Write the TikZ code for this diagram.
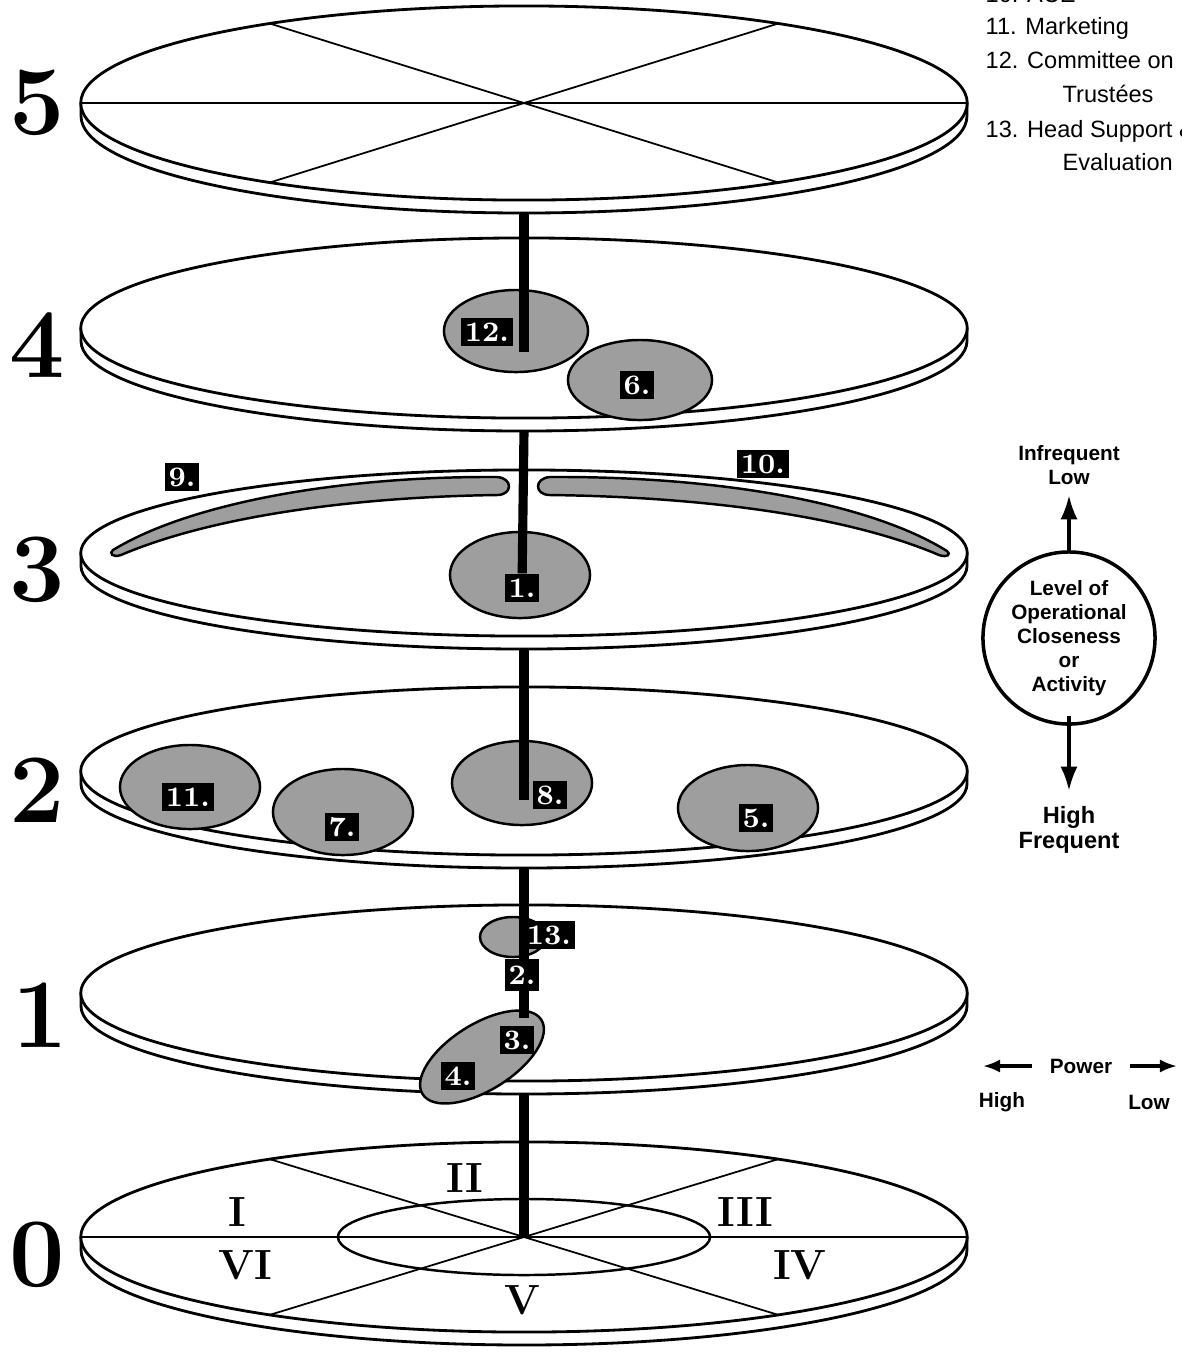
\documentclass[tikz,border=0pt]{standalone}
\usepackage{fontspec}
\newfontfamily\legendfont{Liberation Sans}
\usetikzlibrary{arrows.meta, positioning, shapes.geometric}

% one level: rim first, then the white top face
\newcommand\plate[3]{%
  \draw[rim] (524-443,-#2) -- ++(0,-13)
      arc[start angle=180, end angle=360, x radius=443, y radius=#3] -- ++(0,13);
  \node (#1) [disc, minimum height=#3*0.02cm] at (524,-#2) {};
}

\begin{document}
\begin{tikzpicture}[x=0.01cm, y=0.01cm,
    node distance=1mm,
disc/.style   = {ellipse, draw, line width=0.8pt, fill=white, minimum width=8.86cm,
                 inner sep=0pt, outer sep=0pt},
rim/.style    = {line width=0.8pt},
spoke/.style  = {line width=0.5pt},
streak/.style = {draw, line width=0.7pt, fill=black!38},
blob/.style   = {streak, ellipse, inner sep=0pt},
tag/.style    = {fill=black, text=white, font=\footnotesize\bfseries, inner sep=1pt,
                 minimum height=0.28cm, minimum width=0.3cm},
pole/.style   = {line width=2.6pt},
level/.style  = {font=\fontsize{28}{30}\selectfont\bfseries},
sector/.style = {font=\large\bfseries},
item/.style   = {font=\legendfont\fontsize{6.7}{8}\selectfont, anchor=base west, inner sep=0pt},
key/.style    = {font=\legendfont\bfseries\fontsize{5.9}{6.8}\selectfont, align=center, inner sep=0pt},
arr/.style    = {line width=0.9pt, -{Latex[length=2.4mm, width=1.7mm]}},
parr/.style   = {line width=0.9pt, -{Latex[length=1.7mm, width=1.3mm]}}
                        ]
\useasboundingbox (0,0) rectangle (1182,-1353);
%
\plate{p5}{103}{97}
\plate{p4}{328}{90}
\plate{p3}{553}{83}
\plate{p2}{771}{84}
\plate{p1}{993}{88}
\plate{p0}{1237}{95}
% spokes on top and bottom level
\draw[spoke] (p5.west) -- (p5.east);
\foreach \a in {55,125}
    \draw[spoke] ([shift={(\a:443 and 97)}]p5.center) -- ([shift={(\a+180:443 and 97)}]p5.center);
\draw[spoke] (p0.west) -- (p0.east);
\foreach \a in {55,125}
    \draw[spoke] ([shift={(\a:443 and 95)}]p0.center) -- ([shift={(\a+180:443 and 95)}]p0.center);
\node (core) [ellipse, draw, line width=0.7pt, inner sep=0pt,
              minimum width=3.72cm, minimum height=0.76cm] at (p0.center) {};
% level numbers
\node (n5) [level] at (37,-103)  {5};
\node (n4) [level] at (37,-345)  {4};
\node (n3) [level] at (37,-570)  {3};
\node (n2) [level] at (37,-790)  {2};
\node (n1) [level] at (40,-1015) {1};
\node (n0) [level] at (37,-1255) {0};
% sectors
\node (s1) [sector] at (237,-1212) {I};
\node (s2) [sector] at (465,-1178) {II};
\node (s3) [sector] at (745,-1212) {III};
\node (s6) [sector] at (245,-1265) {VI};
\node (s5) [sector] at (522,-1300) {V};
\node (s4) [sector] at (800,-1265) {IV};
% groups
\node (e12) [blob, minimum width=1.44cm, minimum height=0.82cm] at (516,-331)  {};
\node (e6)  [blob, minimum width=1.44cm, minimum height=0.80cm] at (640,-380)  {};
\node (e1)  [blob, minimum width=1.40cm, minimum height=0.86cm] at (520,-575)  {};
\node (e11) [blob, minimum width=1.40cm, minimum height=0.84cm] at (190,-787)  {};
\node (e7)  [blob, minimum width=1.40cm, minimum height=0.86cm] at (343,-812)  {};
\node (e8)  [blob, minimum width=1.40cm, minimum height=0.84cm] at (522,-783)  {};
\node (e5)  [blob, minimum width=1.40cm, minimum height=0.86cm] at (748,-808)  {};
\node (e13) [blob, minimum width=0.66cm, minimum height=0.40cm] at (513,-937)  {};
\node (e34) [blob, rotate=32, minimum width=1.40cm, minimum height=0.66cm] at (482,-1057) {};
\draw[streak] (113,-550) .. controls (190,-503) and (340,-476) .. (497,-477)
    .. controls (513,-478) and (513,-495) .. (497,-495)
    .. controls (350,-497) and (210,-517) .. (121,-555)
    .. controls (112,-558) and (109,-553) .. cycle;
\draw[streak] (947,-551) .. controls (870,-503) and (720,-476) .. (550,-477)
    .. controls (534,-478) and (534,-495) .. (550,-495)
    .. controls (710,-497) and (850,-517) .. (939,-555)
    .. controls (948,-558) and (951,-554) .. cycle;
% poles
\coordinate (t4) at (524,-352);
\coordinate (t2) at (524,-800);
\coordinate (t1) at (524,-1018);
\node (b1) [tag] at (522,-588) {1.};
\draw[pole] ([yshift=-1.3mm]p5.south) -- (t4);
\draw[pole] ([yshift=-1.3mm]p4.south) -- (b1);
\draw[pole] ([yshift=-1.3mm]p3.south) -- (t2);
\draw[pole] ([yshift=-1.3mm]p2.south) -- (t1);
\draw[pole] ([yshift=-1.3mm]p1.south) -- (p0.center);
% tags
\node (b1)  [tag] at (522,-588)  {1.};
\node (b12) [tag] at (487,-332)  {12.};
\node (b6)  [tag] at (637,-385)  {6.};
\node (b9)  [tag] at (182,-477)  {9.};
\node (b10) [tag] at (763,-464)  {10.};
\node (b11) [tag] at (188,-797)  {11.};
\node (b7)  [tag] at (342,-827)  {7.};
\node (b8)  [tag] at (550,-795)  {8.};
\node (b5)  [tag] at (756,-818)  {5.};
\node (b13) [tag] at (549,-935)  {13.};
\node (b2)  [tag, minimum height=0.32cm] at (522,-975) {2.};
\node (b3)  [tag] at (517,-1040) {3.};
\node (b4)  [tag] at (458,-1076) {4.};
% legend
\node (l10)  [item] at (985,-2)    {10. ACE};
\node (l11)  [item] at (985,-34)   {11. Marketing};
\node (l12)  [item] at (985,-68)   {12. Committee on};
\node (l12b) [item] at (1062,-102) {Trustées};
\node (l13)  [item] at (985,-137)  {13. Head Support \&};
\node (l13b) [item] at (1062,-170) {Evaluation};
%
\node (lev) [circle, draw, line width=1pt, key, minimum size=1.72cm]
    at (1069,-638) {Level of\\Operational\\Closeness\\or\\Activity};
\node (inf) [key] at (1069,-465) {Infrequent\\Low};
\node (frq) [key, font=\legendfont\bfseries\fontsize{6.7}{7.2}\selectfont]
    at (1069,-830) {High\\Frequent};
\draw[arr] (lev.north) -- ([yshift=-1mm]inf.south);
\draw[arr] ([yshift=1mm]lev.south) -- ([yshift=1.5mm]frq.north);
%
\node (pow) [key] at (1081,-1066) {Power};
\coordinate (pl) at (983,-1066);
\coordinate (pr) at (1177,-1066);
\draw[parr] ([xshift=-1.7mm]pow.west) -- (pl);
\draw[parr] ([xshift=1.7mm]pow.east) -- (pr);
\node (hi) [key] at (1002,-1102) {High};
\node (lo) [key] at (1149,-1102) {Low};
\end{tikzpicture}
\end{document}
